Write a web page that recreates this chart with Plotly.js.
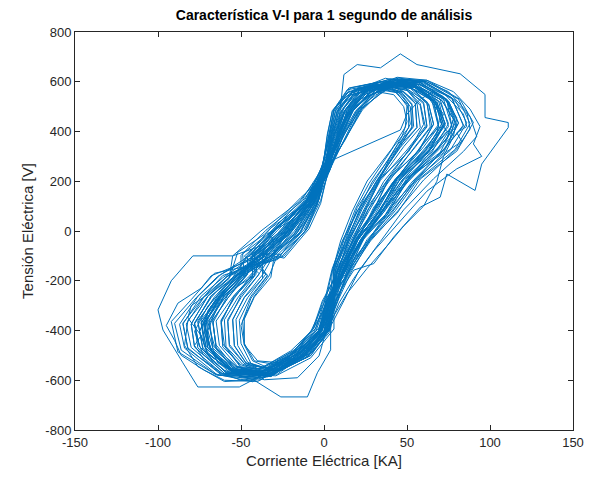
<!DOCTYPE html>
<html>
<head>
<meta charset="utf-8">
<script src="https://cdn.plot.ly/plotly-3.0.1.min.js"></script>
<style>html,body{margin:0;padding:0;background:#fff;}#chart{width:591px;height:480px;}</style>
</head>
<body>
<div id="chart"></div>
<script>
// Corriente Eléctrica [KA], one inner list per cycle
const corriente = [
[-37,-21,-8,2,9,18,28,40,54,66,69,58,42,30,19,10,2,-3,-17,-38,-54,-66,-70,-60,-47],
[-40,-24,-9,1,8,15,26,40,52,60,66,72,70,74,64,47,36,22,12,5,-1,-14,-33,-50,-58,-70,-73,-62,-50],
[-40,-26,-9,0,4,8,16,32,50,58,61,50,34,24,15,8,5,2,-11,-31,-56,-72,-74,-63,-52],
[-34,-19,-6,4,13,21,33,46,58,74,80,69,50,37,23,13,2,-5,-18,-38,-52,-63,-65,-55,-44],
[-33,-18,-5,2,10,18,30,45,60,72,84,86,80,83,72,55,42,28,16,8,2,-3,-16,-36,-56,-68,-72,-63,-49],
[-43,-28,-10,-1,6,12,22,40,62,81,88,79,56,43,27,15,8,1,-13,-34,-59,-76,-78,-68,-56],
[-30,-14,-4,4,10,19,29,40,46,53,54,44,29,20,12,6,6,3,-7,-26,-47,-57,-58,-50,-40],
[-22,-8,2,8,12,20,34,46,56,74,82,97,97,111,111,95,91,74,70,58,42,30,18,10,4,-3,-18,-38,-56,-70,-75,-68,-54,-38],
[-26,-12,-3,2,8,14,22,32,42,48,50,47,40,33,24,15,8,3,-1,-10,-26,-40,-48,-50,-44,-34],
[-48,-31,-12,-1,3,6,15,34,54,69,73,62,45,33,20,11,4,-2,-17,-40,-62,-82,-85,-73,-61],
[-25,-11,-2,3,8,14,24,38,52,62,65,54,38,27,17,9,-1,-7,-18,-37,-44,-50,-51,-44,-34],
[-45,-30,-11,0,6,13,23,38,54,67,72,63,44,33,20,11,4,-1,-15,-34,-50,-62,-72,-78,-74,-82,-80,-70,-58],
[-38,-24,-8,2,14,23,36,48,60,77,84,73,53,40,26,14,8,1,-11,-31,-55,-69,-72,-62,-49],
[-32,-17,-6,1,4,8,16,31,44,50,49,41,26,17,10,5,4,3,-8,-28,-50,-60,-62,-54,-42],
[-38,-23,-8,1,8,15,26,42,60,76,88,92,84,66,48,34,21,12,5,0,-14,-35,-56,-70,-72,-62,-50],
[-50,-35,-13,2,10,17,29,42,54,67,71,61,43,31,19,11,2,-3,-20,-42,-65,-86,-90,-77,-64],
[-42,-26,-9,-1,2,5,14,31,50,60,62,52,36,26,16,8,4,0,-14,-34,-58,-73,-76,-66,-54],
[-24,-14,-10,-4,1,6,12,21,34,45,52,53,46,33,20,11,5,1,-2,-11,-28,-42,-48,-49,-42,-33],
[-28,-14,-4,2,9,16,26,42,57,74,77,68,48,36,22,12,1,-8,-20,-39,-47,-54,-55,-48,-37],
[-22,-8,2,7,14,26,42,58,71,78,74,62,48,36,25,15,8,3,-4,-20,-51,-76,-85,-97,-100,-92,-79,-55,-38],
[-44,-29,-11,3,13,23,35,47,56,70,75,65,46,34,21,12,7,3,-11,-32,-60,-78,-80,-70,-57],
[-55,-38,-15,0,7,13,23,39,55,68,72,64,45,33,20,11,4,-2,-17,-40,-60,-72,-86,-90,-95,-88,-74,-68],
[-36,-21,-7,1,6,12,21,37,52,63,66,57,39,29,18,9,3,-2,-15,-35,-53,-65,-67,-58,-46],
[-46,-30,-11,1,3,7,16,32,48,55,56,46,31,22,13,6,6,6,-8,-29,-61,-80,-83,-72,-59],
[-35,-20,-6,2,9,17,28,44,62,78,88,94,90,95,80,62,46,30,18,9,3,-8,-28,-50,-64,-70,-70,-60,-48],
[-31,-16,-5,2,12,21,32,46,60,79,86,76,55,41,26,15,4,-3,-16,-35,-49,-59,-60,-52,-41],
[-40,-25,-9,2,9,14,23,37,53,66,69,60,41,31,18,10,5,1,-12,-33,-56,-71,-74,-64,-52],
[-26,-12,-3,0,5,9,18,36,55,68,73,63,44,33,20,11,2,-6,-18,-36,-46,-52,-53,-46,-35],
[-42,-30,-34,-20,-8,0,6,12,20,32,48,62,70,68,58,42,30,19,10,4,0,-12,-32,-52,-66,-72,-70,-62,-52],
[-37,-22,-8,4,11,20,31,42,48,56,58,48,32,23,14,7,6,4,-8,-28,-54,-67,-69,-60,-48],
[-49,-33,-13,-2,4,7,16,35,58,75,81,72,51,38,24,14,6,0,-16,-37,-64,-84,-87,-76,-62],
[-22,-8,2,7,14,26,42,58,71,78,74,62,48,36,25,15,8,4,4,-4,-10,-26,-42,-60,-73,-78,-70,-55,-38],
[-24,-9,-2,3,8,16,27,38,46,51,51,42,27,19,11,5,0,-5,-16,-34,-43,-48,-48,-42,-32],
[-30,-16,-4,2,8,15,26,42,58,72,80,78,72,68,60,48,38,26,14,6,0,-14,-34,-54,-66,-70,-64,-54,-42],
[-42,-26,-9,-1,6,11,21,40,62,82,90,80,58,44,28,16,9,1,-12,-32,-58,-73,-76,-66,-53],
[-32,-18,-6,3,13,22,34,44,51,62,64,55,38,27,17,9,-1,-6,-19,-39,-50,-61,-62,-54,-43],
[-43,-28,-10,-1,2,5,14,32,54,67,71,61,43,31,19,11,7,3,-10,-31,-59,-75,-78,-68,-55],
[-46,-30,-11,1,5,10,18,30,42,50,52,45,32,22,13,7,2,-3,-18,-38,-60,-76,-84,-82,-70,-58],
[-38,-23,-8,2,10,18,29,44,57,72,77,67,48,36,22,12,4,-3,-16,-36,-55,-69,-71,-62,-50],
[-30,-15,-4,1,8,14,25,37,49,58,60,51,34,24,15,8,5,1,-9,-28,-48,-57,-58,-50,-39],
[-48,-32,-12,-1,5,9,18,37,59,77,84,74,53,40,25,14,2,-6,-22,-44,-62,-82,-85,-74,-61],
[-20,-7,2,5,46,50,58,66,74,79,76,64,50,37,26,16,8,3,-4,-18,-38,-56,-70,-75,-68,-53,-37],
[-40,-25,-9,3,12,21,32,44,52,63,66,57,39,29,18,9,5,0,-13,-34,-56,-71,-74,-64,-52],
[-36,-21,-7,1,8,16,27,43,60,75,86,88,80,60,45,28,16,7,1,-13,-34,-54,-68,-72,-64,-50],
[-36,-21,-7,1,4,8,17,32,47,53,53,44,29,20,12,6,6,4,-8,-28,-53,-65,-67,-58,-46],
[-32,-18,-6,2,9,16,26,41,56,70,75,65,46,34,21,12,3,-3,-16,-36,-50,-61,-62,-54,-43],
[-44,-29,-11,-1,3,6,15,32,50,60,62,53,36,26,16,8,5,2,-12,-33,-60,-78,-80,-70,-57],
[-52,-36,-14,3,12,20,32,45,57,74,79,70,50,37,23,13,2,-4,-21,-43,-66,-88,-92,-80,-66],
[-28,-14,-4,1,7,13,23,38,53,65,69,59,41,30,19,10,5,0,-11,-30,-47,-54,-55,-48,-37],
[-37,-22,-8,0,5,10,20,37,55,68,73,63,44,33,20,11,4,-2,-15,-35,-54,-67,-69,-60,-48],
[-43,-28,-10,3,9,17,28,40,48,55,56,46,31,22,13,6,5,3,-10,-31,-59,-75,-78,-68,-55],
[-36,-21,-7,-2,3,6,15,34,58,75,81,72,51,38,24,14,4,-4,-18,-38,-53,-65,-67,-58,-46]
];
// Tensión Eléctrica [V], one inner list per cycle
const tension = [
[-98,4,118,252,376,488,562,590,580,520,428,335,196,82,-38,-164,-276,-402,-495,-568,-555,-462,-366,-262,-182],
[-96,5,122,247,383,480,556,600,590,560,520,470,440,400,326,205,86,-38,-156,-270,-392,-488,-585,-590,-545,-470,-360,-262,-180],
[-104,-3,124,248,384,483,556,586,566,512,420,326,204,78,-42,-158,-284,-398,-500,-574,-560,-466,-368,-263,-177],
[-96,2,118,254,378,490,566,606,588,528,426,332,198,84,-36,-162,-278,-404,-490,-566,-545,-460,-362,-266,-183],
[-104,-2,120,252,380,490,572,615,600,555,470,420,395,360,310,200,90,-30,-150,-265,-385,-502,-590,-598,-560,-480,-372,-266,-178],
[-102,3,122,246,382,494,572,612,600,530,432,328,202,82,-44,-156,-282,-401,-503,-580,-566,-470,-369,-268,-178],
[-97,-2,116,253,377,482,550,576,560,506,420,334,197,77,-37,-163,-279,-397,-486,-556,-540,-456,-364,-259,-181],
[0,110,230,380,629,669,656,712,669,643,632,549,456,436,416,269,163,229,136,96,-24,-131,-157,-240,-330,-420,-510,-566,-560,-494,-404,-302,-192,-90],
[-94,6,126,256,378,470,530,560,548,500,440,380,300,200,85,-40,-160,-280,-400,-470,-530,-522,-458,-380,-270,-180],
[-101,1,121,251,379,488,560,599,580,523,424,331,199,81,-41,-161,-277,-403,-506,-588,-574,-474,-370,-269,-179],
[-99,2,123,249,381,484,558,586,574,512,422,329,203,79,-39,-159,-281,-399,-482,-547,-532,-452,-359,-262,-178],
[-100,0,122,248,384,488,566,598,583,522,428,330,200,80,-40,-160,-280,-400,-500,-586,-600,-570,-520,-460,-420,-350,-300,-255,-180],
[-103,-1,119,247,383,486,572,607,594,532,426,334,197,83,-43,-157,-283,-400,-497,-571,-557,-464,-367,-264,-181],
[-100,-4,117,252,378,478,548,571,556,503,418,332,201,79,-40,-162,-278,-401,-491,-560,-546,-458,-362,-265,-180],
[-98,2,120,250,382,487,570,610,598,540,460,380,320,210,85,-42,-160,-280,-370,-420,-505,-582,-565,-470,-366,-266,-180],
[-98,3,121,249,382,485,563,596,579,521,424,328,202,81,-39,-160,-282,-398,-510,-596,-578,-479,-371,-268,-182],
[-100,1,119,250,380,484,556,587,572,511,423,331,199,80,-40,-159,-280,-401,-501,-578,-562,-469,-367,-265,-180],
[-100,-20,10,110,240,370,470,540,572,556,500,420,340,210,80,-40,-160,-280,-400,-478,-538,-522,-452,-362,-262,-180],
[-96,-5,126,244,386,483,570,598,590,526,421,326,206,76,-34,-165,-274,-405,-482,-556,-531,-460,-357,-266,-176],
[0,110,230,350,460,540,585,575,525,450,370,290,190,90,-10,-120,-230,-330,-420,-520,-627,-627,-530,-398,-317,-200,-100,-100,-60],
[-104,6,115,256,374,492,558,604,578,529,420,336,194,86,-46,-154,-286,-394,-508,-579,-572,-466,-374,-262,-186],
[-100,0,118,245,380,486,565,600,585,522,428,330,200,80,-40,-160,-280,-400,-515,-605,-600,-560,-500,-440,-380,-290,-230,-180],
[-95,-6,126,245,385,479,563,585,580,511,429,324,206,74,-34,-166,-274,-406,-488,-573,-544,-470,-358,-270,-174],
[-106,5,114,257,373,488,545,584,558,513,416,336,194,86,-46,-154,-286,-394,-510,-582,-575,-468,-374,-262,-186],
[-100,0,120,250,380,490,575,618,606,560,490,420,350,300,250,160,40,-80,-190,-290,-390,-480,-575,-585,-530,-450,-350,-260,-180],
[-94,-6,126,244,386,483,578,604,602,526,435,324,206,74,-34,-166,-274,-406,-483,-564,-536,-465,-357,-269,-174],
[-107,7,113,258,372,491,554,598,572,524,419,338,192,88,-48,-152,-288,-392,-504,-570,-564,-462,-372,-260,-188],
[-93,-7,127,243,387,480,569,591,588,515,432,323,207,73,-33,-167,-273,-407,-478,-555,-527,-460,-356,-268,-173],
[-100,-40,-10,40,130,250,380,480,548,590,590,545,470,390,310,200,85,-40,-160,-280,-400,-500,-585,-575,-505,-410,-320,-250,-180],
[-108,8,112,259,371,489,546,587,560,515,416,339,191,89,-49,-151,-289,-391,-501,-564,-558,-459,-371,-259,-189],
[-92,-8,128,242,388,482,575,600,597,522,434,322,208,72,-32,-168,-272,-408,-513,-588,-580,-471,-375,-263,-174],
[0,110,230,350,460,540,585,575,525,450,370,290,190,90,-10,-120,-230,-330,-478,-570,-667,-667,-600,-560,-495,-404,-302,-192,-90],
[-109,9,111,260,370,487,542,580,554,510,415,340,190,90,-50,-150,-290,-390,-476,-549,-522,-458,-354,-266,-186],
[-100,0,120,250,380,488,568,605,596,540,455,380,300,200,100,20,-60,-150,-250,-340,-420,-505,-580,-568,-495,-400,-300,-230,-180],
[-91,-9,129,241,389,484,581,609,606,529,436,321,209,71,-31,-169,-271,-409,-494,-585,-555,-476,-360,-272,-174],
[-110,10,110,261,369,490,551,594,567,520,418,341,189,91,-51,-149,-291,-389,-496,-555,-550,-454,-370,-258,-186],
[-90,-10,130,240,390,480,568,589,586,513,432,320,210,70,-30,-170,-270,-410,-507,-576,-570,-465,-373,-261,-187],
[-100,0,120,250,380,475,545,578,565,510,430,340,205,85,-40,-160,-280,-400,-510,-598,-605,-545,-460,-360,-262,-180],
[-111,11,109,262,368,493,560,608,581,530,421,342,188,92,-52,-148,-292,-388,-490,-579,-549,-472,-359,-271,-175],
[-89,-11,131,239,391,477,560,578,574,504,429,319,211,69,-29,-171,-269,-411,-482,-561,-533,-464,-356,-268,-172],
[-112,12,108,263,367,494,564,614,587,536,422,343,187,93,-53,-147,-293,-387,-512,-585,-578,-470,-374,-262,-188],
[2,112,232,285,406,470,530,560,530,453,373,293,193,93,-7,-117,-227,-327,-419,-509,-567,-560,-495,-404,-302,-192,-90],
[-88,-12,132,238,392,478,564,584,581,510,430,318,212,68,-28,-172,-268,-412,-492,-582,-552,-474,-358,-272,-172],
[-100,0,120,250,380,490,572,612,605,560,480,410,330,205,85,-40,-160,-280,-400,-498,-578,-562,-480,-380,-280,-180],
[-113,13,107,264,366,486,544,583,556,511,414,344,186,94,-54,-146,-294,-386,-500,-561,-556,-458,-370,-258,-189],
[-87,-13,133,237,393,480,570,593,590,517,432,317,213,67,-27,-173,-267,-413,-484,-567,-538,-466,-358,-270,-171],
[-114,14,106,265,365,490,550,592,565,518,418,345,185,95,-55,-145,-295,-385,-508,-579,-572,-466,-374,-262,-190],
[-86,-14,134,236,394,482,574,598,595,520,434,316,214,66,-26,-174,-266,-414,-504,-606,-574,-486,-364,-276,-170],
[-115,15,105,266,364,491,554,598,572,524,419,346,184,96,-56,-144,-296,-384,-480,-558,-530,-462,-356,-268,-191],
[-85,-15,135,235,395,480,569,591,588,515,432,315,215,65,-25,-175,-265,-415,-489,-576,-546,-471,-359,-271,-169],
[-116,16,104,267,363,486,545,585,558,513,416,347,183,97,-57,-143,-297,-383,-507,-576,-570,-465,-373,-261,-192],
[-84,-16,136,234,396,482,575,600,597,522,434,314,216,64,-24,-176,-264,-416,-488,-573,-544,-470,-358,-270,-168]
];
const xTicks = [-150,-100,-50,0,50,100,150];
const yTicks = [-800,-600,-400,-200,0,200,400,600,800];

// join the cycles into one continuous trace
const xs = [], ys = [];
corriente.forEach(function (cx, i) {
  const cy = tension[i] || [];
  const n = Math.min(cx.length, cy.length);
  for (let k = 0; k < n; k++) { xs.push(cx[k]); ys.push(cy[k]); }
});

const axisColor = '#262626';
const fontFam = '"Liberation Sans", Arial, Helvetica, sans-serif';

const trace = {
  x: xs, y: ys, type: 'scatter', mode: 'lines',
  line: {color: '#0072BD', width: 1}, hoverinfo: 'skip'
};

const axisCommon = {
  showline: true, linecolor: axisColor, linewidth: 1, mirror: 'ticks',
  ticks: 'inside', ticklen: 5, tickcolor: axisColor, tickwidth: 1,
  showgrid: false, zeroline: false,
  tickfont: {family: fontFam, size: 13, color: axisColor}
};

const layout = {
  width: 591, height: 480,
  margin: {l: 75, r: 18, t: 32, b: 50},
  paper_bgcolor: '#ffffff', plot_bgcolor: '#ffffff',
  showlegend: false,
  title: {text: '<b>Característica V-I para 1 segundo de análisis</b>',
    font: {family: fontFam, size: 14, color: '#000000'},
    x: 0.5, xref: 'paper', y: 1 - 15/480, yref: 'container', yanchor: 'middle'},
  xaxis: Object.assign({}, axisCommon, {
    range: [-150, 150], tickvals: xTicks, ticktext: xTicks.map(String),
    title: {text: 'Corriente Eléctrica [KA]', font: {family: fontFam, size: 15, color: axisColor}, standoff: 6}
  }),
  yaxis: Object.assign({}, axisCommon, {
    range: [-800, 800], tickvals: yTicks, ticktext: yTicks.map(String),
    title: {text: 'Tensión Eléctrica [V]', font: {family: fontFam, size: 15, color: axisColor}, standoff: 8}
  })
};

Plotly.newPlot('chart', [trace], layout, {displayModeBar: false, staticPlot: true});
</script>
</body>
</html>
